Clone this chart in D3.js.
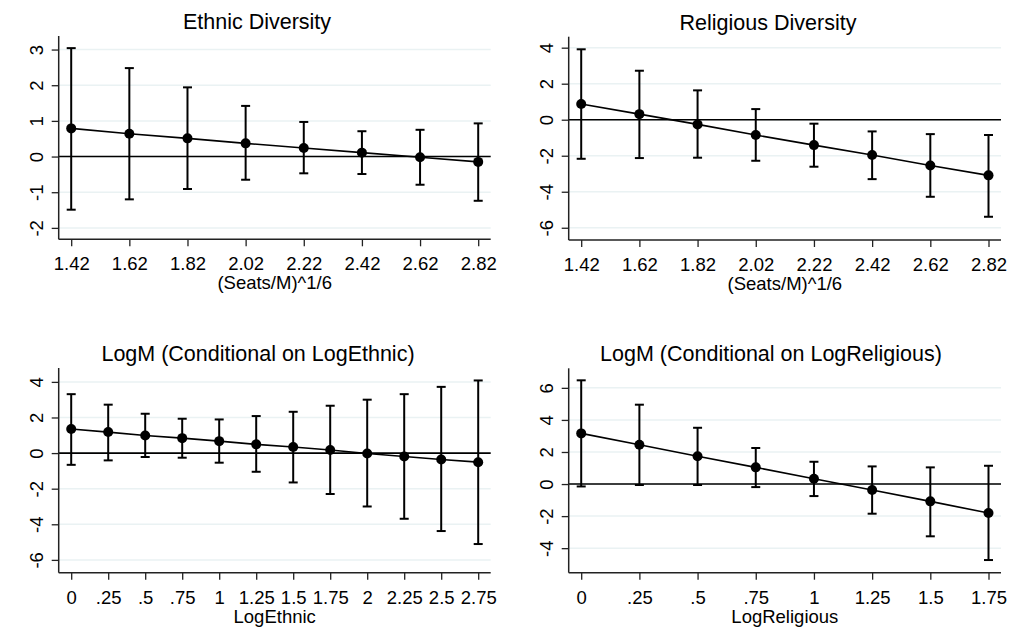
<!DOCTYPE html>
<html>
<head>
<meta charset="utf-8">
<script src="https://cdn.jsdelivr.net/npm/d3@7"></script>
<style>
  html, body { margin: 0; padding: 0; background: #fff; }
  svg { display: block; font-family: Arial, "Liberation Sans", sans-serif; }
</style>
</head>
<body>
<svg id="chart" width="1013" height="629"></svg>
<script>
// Marginal effects with 95% confidence intervals

// Panel 1: Ethnic Diversity
const seatsX = [1.42, 1.62, 1.82, 2.02, 2.22, 2.42, 2.62, 2.82];
const seatsTickLabels = ["1.42", "1.62", "1.82", "2.02", "2.22", "2.42", "2.62", "2.82"];
const ethnicEst = [0.79, 0.64, 0.51, 0.37, 0.24, 0.11, -0.02, -0.15];
const ethnicLo  = [-1.49, -1.20, -0.91, -0.65, -0.47, -0.49, -0.79, -1.24];
const ethnicHi  = [3.04, 2.48, 1.94, 1.42, 0.97, 0.71, 0.75, 0.93];
const ethnicYTicks = [-2, -1, 0, 1, 2, 3];

// Panel 2: Religious Diversity
const religiousEst = [0.87, 0.31, -0.26, -0.85, -1.41, -1.96, -2.54, -3.09];
const religiousLo  = [-2.17, -2.13, -2.11, -2.28, -2.61, -3.30, -4.28, -5.39];
const religiousHi  = [3.91, 2.72, 1.63, 0.59, -0.22, -0.65, -0.80, -0.85];
const religiousYTicks = [-6, -4, -2, 0, 2, 4];

// Panel 3: LogM conditional on LogEthnic
const logEthnicX = [0, 0.25, 0.5, 0.75, 1, 1.25, 1.5, 1.75, 2, 2.25, 2.5, 2.75];
const logEthnicTickLabels = ["0", ".25", ".5", ".75", "1", "1.25", "1.5", "1.75", "2", "2.25", "2.5", "2.75"];
const logMEthEst = [1.35, 1.18, 0.99, 0.84, 0.67, 0.49, 0.34, 0.17, -0.02, -0.19, -0.36, -0.51];
const logMEthLo  = [-0.66, -0.41, -0.22, -0.26, -0.54, -1.05, -1.65, -2.30, -3.00, -3.69, -4.38, -5.11];
const logMEthHi  = [3.31, 2.72, 2.21, 1.93, 1.89, 2.08, 2.32, 2.66, 3.00, 3.31, 3.72, 4.08];
const logMEthYTicks = [-6, -4, -2, 0, 2, 4];

// Panel 4: LogM conditional on LogReligious
const logReligiousX = [0, 0.25, 0.5, 0.75, 1, 1.25, 1.5, 1.75];
const logReligiousTickLabels = ["0", ".25", ".5", ".75", "1", "1.25", "1.5", "1.75"];
const logMRelEst = [3.16, 2.45, 1.73, 1.04, 0.33, -0.37, -1.08, -1.81];
const logMRelLo  = [-0.15, -0.06, -0.06, -0.19, -0.75, -1.85, -3.26, -4.74];
const logMRelHi  = [6.47, 4.95, 3.51, 2.25, 1.39, 1.10, 1.04, 1.14];
const logMRelYTicks = [-4, -2, 0, 2, 4, 6];

const titles = ["Ethnic Diversity", "Religious Diversity",
                "LogM (Conditional on LogEthnic)", "LogM (Conditional on LogReligious)"];
const xLabels = ["(Seats/M)^1/6", "(Seats/M)^1/6", "LogEthnic", "LogReligious"];

const panels = [
  { title: titles[0], xLabel: xLabels[0], x: seatsX, xTicks: seatsTickLabels,
    est: ethnicEst, lo: ethnicLo, hi: ethnicHi, yTicks: ethnicYTicks, yDomain: [-2.32, 3.38],
    box: { left: 58.7, right: 490.7, top: 36, bottom: 239.3 }, titleX: 257 },
  { title: titles[1], xLabel: xLabels[1], x: seatsX, xTicks: seatsTickLabels,
    est: religiousEst, lo: religiousLo, hi: religiousHi, yTicks: religiousYTicks, yDomain: [-6.68, 4.61],
    box: { left: 568.7, right: 1001, top: 36.7, bottom: 240 }, titleX: 768 },
  { title: titles[2], xLabel: xLabels[2], x: logEthnicX, xTicks: logEthnicTickLabels,
    est: logMEthEst, lo: logMEthLo, hi: logMEthHi, yTicks: logMEthYTicks, yDomain: [-6.72, 4.78],
    box: { left: 58.7, right: 490.7, top: 368, bottom: 572.7 }, titleX: 258 },
  { title: titles[3], xLabel: xLabels[3], x: logReligiousX, xTicks: logReligiousTickLabels,
    est: logMRelEst, lo: logMRelLo, hi: logMRelHi, yTicks: logMRelYTicks, yDomain: [-5.53, 7.22],
    box: { left: 568.7, right: 1001, top: 368.3, bottom: 572.7 }, titleX: 771 }
];

const svg = d3.select("#chart");
const gridColor = "#eaf2f3";
const inkColor = "#000";
const tickFont = 18.5;
const titleFont = 21.5;

panels.forEach(p => {
  const b = p.box;
  const pad = 12.5;
  const xScale = d3.scaleLinear()
    .domain([p.x[0], p.x[p.x.length - 1]])
    .range([b.left + pad, b.right - pad]);
  const yScale = d3.scaleLinear().domain(p.yDomain).range([b.bottom, b.top]);

  const g = svg.append("g");

  // horizontal grid lines at each y tick
  g.selectAll("line.grid").data(p.yTicks).join("line")
    .attr("class", "grid")
    .attr("x1", b.left).attr("x2", b.right)
    .attr("y1", d => yScale(d)).attr("y2", d => yScale(d))
    .attr("stroke", gridColor).attr("stroke-width", 1.5);

  // reference line at zero
  g.append("line")
    .attr("x1", b.left).attr("x2", b.right)
    .attr("y1", yScale(0)).attr("y2", yScale(0))
    .attr("stroke", inkColor).attr("stroke-width", 1.6);

  // y axis: vertical tick labels, outward ticks
  const yAxis = d3.axisLeft(yScale).tickValues(p.yTicks).tickSize(7).tickSizeOuter(0)
    .tickFormat(d3.format("d"));
  const yG = g.append("g").attr("transform", `translate(${b.left},0)`).call(yAxis);
  yG.select(".domain").attr("stroke", "#222").attr("stroke-width", 1.5)
    .attr("d", `M0,${b.top}V${b.bottom}`);
  yG.selectAll(".tick line").attr("stroke", "#222").attr("stroke-width", 1.3);
  yG.selectAll(".tick text")
    .attr("x", null).attr("dy", null)
    .attr("transform", "translate(-16,0) rotate(-90)")
    .attr("text-anchor", "middle")
    .attr("font-size", tickFont).attr("fill", "#000")
    .text(d => d < 0 ? "-" + Math.abs(d) : String(d));

  // x axis
  const xAxis = d3.axisBottom(xScale).tickValues(p.x).tickSize(7).tickSizeOuter(0)
    .tickFormat((d, i) => p.xTicks[i]);
  const xG = g.append("g").attr("transform", `translate(0,${b.bottom})`).call(xAxis);
  xG.select(".domain").attr("stroke", "#222").attr("stroke-width", 1.5)
    .attr("d", `M${b.left},0H${b.right}`);
  xG.selectAll(".tick line").attr("stroke", "#222").attr("stroke-width", 1.3);
  xG.selectAll(".tick text")
    .attr("y", 31).attr("dy", null)
    .attr("font-size", tickFont).attr("fill", "#000");

  // axis title
  g.append("text")
    .attr("x", (b.left + b.right) / 2).attr("y", b.bottom + 50)
    .attr("text-anchor", "middle").attr("font-size", tickFont).attr("fill", "#000")
    .text(p.xLabel);

  // panel title
  g.append("text")
    .attr("x", p.titleX).attr("y", b.top - 7)
    .attr("text-anchor", "middle").attr("font-size", titleFont).attr("fill", "#000")
    .text(p.title);

  const rows = p.x.map((x, i) => ({ x, est: p.est[i], lo: p.lo[i], hi: p.hi[i] }));

  // confidence intervals with caps
  const capHalf = 4.5;
  const ci = g.append("g").attr("stroke", inkColor).attr("stroke-width", 2);
  ci.selectAll("line.bar").data(rows).join("line")
    .attr("x1", d => xScale(d.x)).attr("x2", d => xScale(d.x))
    .attr("y1", d => yScale(d.lo)).attr("y2", d => yScale(d.hi));
  ci.selectAll("line.capHi").data(rows).join("line")
    .attr("x1", d => xScale(d.x) - capHalf).attr("x2", d => xScale(d.x) + capHalf)
    .attr("y1", d => yScale(d.hi)).attr("y2", d => yScale(d.hi));
  ci.selectAll("line.capLo").data(rows).join("line")
    .attr("x1", d => xScale(d.x) - capHalf).attr("x2", d => xScale(d.x) + capHalf)
    .attr("y1", d => yScale(d.lo)).attr("y2", d => yScale(d.lo));

  // connecting line through the estimates
  g.append("path")
    .datum(rows)
    .attr("fill", "none").attr("stroke", inkColor).attr("stroke-width", 1.6)
    .attr("d", d3.line().x(d => xScale(d.x)).y(d => yScale(d.est)));

  // point estimates
  g.selectAll("circle.pt").data(rows).join("circle")
    .attr("cx", d => xScale(d.x)).attr("cy", d => yScale(d.est))
    .attr("r", 5).attr("fill", inkColor);
});
</script>
</body>
</html>
